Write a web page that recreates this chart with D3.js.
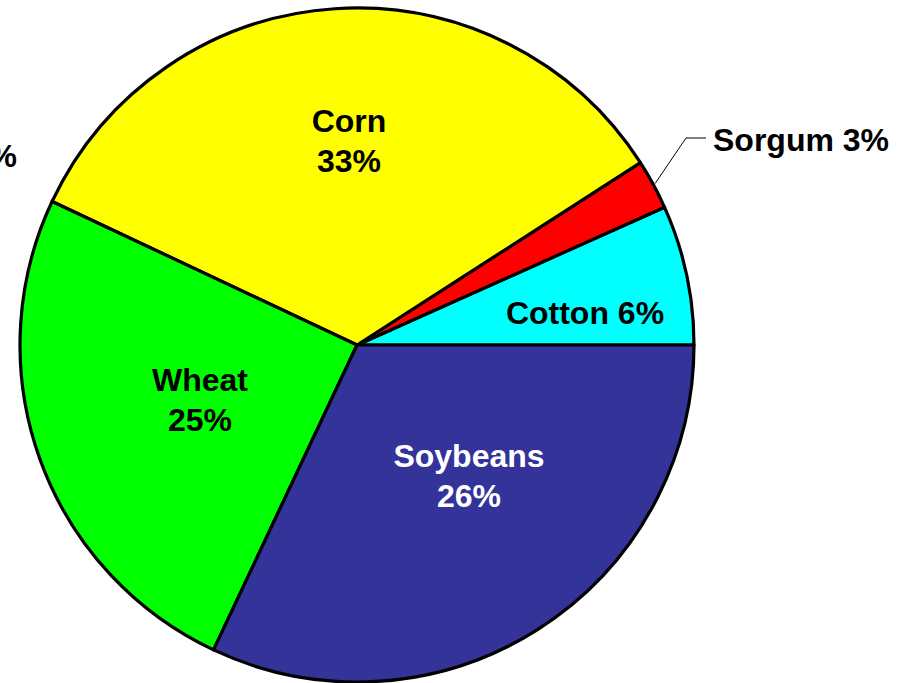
<!DOCTYPE html>
<html>
<head>
<meta charset="utf-8">
<script src="https://cdn.jsdelivr.net/npm/d3@7"></script>
<style>
html,body{margin:0;padding:0;background:#fff;overflow:hidden}
svg{display:block}
text{font-family:"Liberation Sans",Arial,sans-serif;font-weight:bold}
</style>
</head>
<body>
<script>
// Slice data (counter-clockwise from 3 o'clock), shares
const categories = ["Cotton", "Sorgum", "Corn", "Wheat", "Soybeans"];
const shares     = [6.7, 2.4, 33.9, 25.0, 32.0];
const labelPct   = ["6%", "3%", "33%", "25%", "26%"];
const colors     = ["#00FFFF", "#FF0000", "#FFFF00", "#00FF00", "#333399"];
const textColors = ["#000", "#000", "#000", "#000", "#fff"];
const offLabel   = "Other 7%";

const W = 903, H = 683;
const cx = 357, cy = 345, R = 337;

const svg = d3.select("body").append("svg").attr("width", W).attr("height", H);
const g = svg.append("g").attr("transform", `translate(${cx},${cy})`);

const pie = d3.pie().sort(null).value(d => d)
  .startAngle(Math.PI / 2).endAngle(Math.PI / 2 - 2 * Math.PI);
const arcs = pie(shares);
const arc = d3.arc().innerRadius(0).outerRadius(R);

g.selectAll("path.slice").data(arcs).enter().append("path")
  .attr("class", "slice")
  .attr("d", arc)
  .attr("fill", (d, i) => colors[i])
  .attr("stroke", "#000")
  .attr("stroke-width", 3.2)
  .attr("stroke-linejoin", "round");

// Label placement (relative offsets from pie center)
const labelPos = {
  Corn:     {x: -8,  y: -213, two: true},
  Wheat:    {x: -157, y: 46,  two: true},
  Soybeans: {x: 112, y: 122,  two: true},
  Cotton:   {x: 228, y: -21,  two: false}
};
const fs = 32, lh = 40;
arcs.forEach((d, i) => {
  const name = categories[i];
  const p = labelPos[name];
  if (!p) return;
  const t = g.append("text")
    .attr("text-anchor", "middle")
    .attr("font-size", fs)
    .attr("fill", textColors[i]);
  if (p.two) {
    t.append("tspan").attr("x", p.x).attr("y", p.y).text(name);
    t.append("tspan").attr("x", p.x).attr("y", p.y + lh).text(labelPct[i]);
  } else {
    t.attr("x", p.x).attr("y", p.y).text(name + " " + labelPct[i]);
  }
});

// Sorgum outside label with leader line
const si = categories.indexOf("Sorgum");
const sa = (arcs[si].startAngle + arcs[si].endAngle) / 2;
const edge = [Math.sin(sa) * (R + 2), -Math.cos(sa) * (R + 2)];
g.append("polyline")
  .attr("points", [edge, [329, -207], [349, -207]].map(p => p.join(",")).join(" "))
  .attr("fill", "none").attr("stroke", "#000").attr("stroke-width", 1);
g.append("text")
  .attr("x", 356).attr("y", -194)
  .attr("font-size", fs).attr("fill", "#000")
  .text(categories[si] + " " + labelPct[si]);

// Off-canvas label partially visible at left edge (as in the reference)
svg.append("text")
  .attr("x", 17).attr("y", 167)
  .attr("text-anchor", "end")
  .attr("font-size", fs).attr("fill", "#000")
  .text(offLabel);
</script>
</body>
</html>
